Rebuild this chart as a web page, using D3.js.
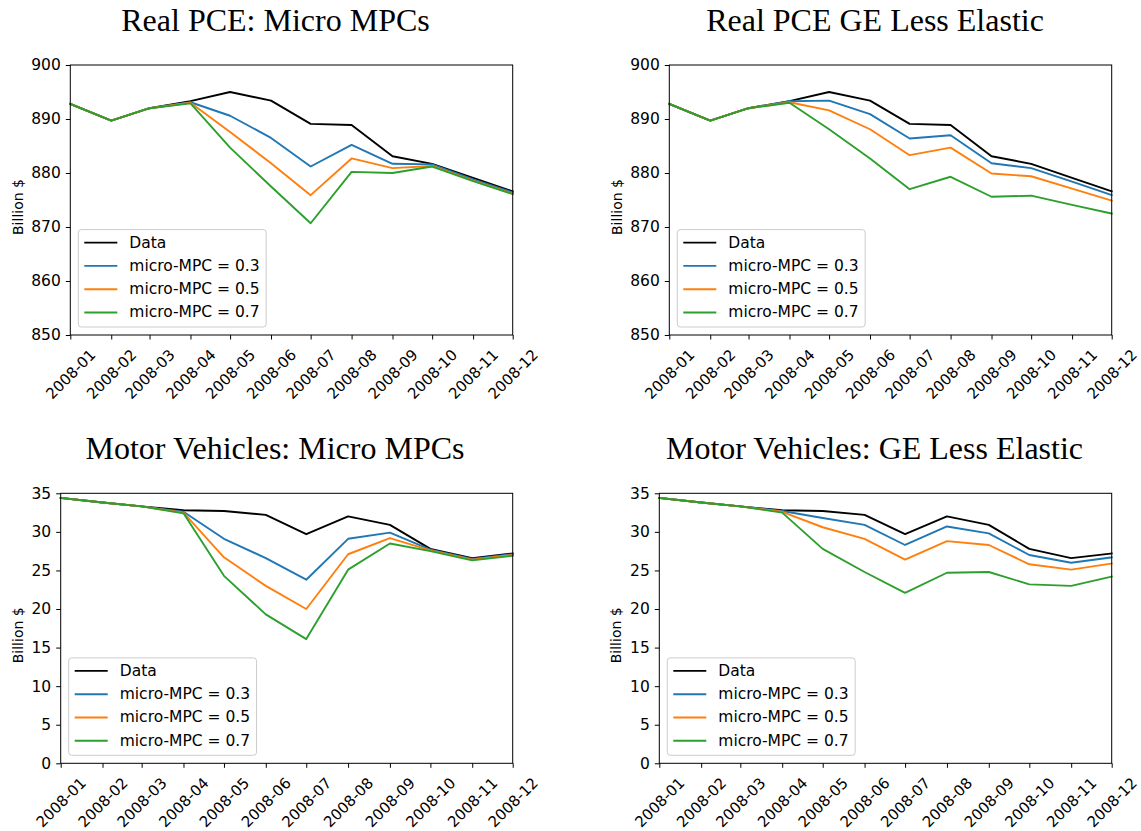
<!DOCTYPE html>
<html>
<head>
<meta charset="utf-8">
<script src="https://cdn.jsdelivr.net/npm/d3@7"></script>
<style>
  body { margin: 0; background: #fff; }
  svg { display: block; }
  .tick text { font-family: "DejaVu Sans", sans-serif; }
</style>
</head>
<body>
<svg id="chart" width="1141" height="831"></svg>
<script>
// data
const months = ["2008-01", "2008-02", "2008-03", "2008-04", "2008-05", "2008-06",
                "2008-07", "2008-08", "2008-09", "2008-10", "2008-11", "2008-12"];

const seriesNames = ["Data", "micro-MPC = 0.3", "micro-MPC = 0.5", "micro-MPC = 0.7"];
const seriesColors = ["#000000", "#1f77b4", "#ff7f0e", "#2ca02c"];

// Real PCE, billion $
const pceData      = [892.8, 889.7, 892.0, 893.3, 895.0, 893.4, 889.1, 888.9, 883.1, 881.7, 879.1, 876.6];
const pceMicro03   = [892.8, 889.7, 892.0, 893.1, 890.6, 886.5, 881.2, 885.2, 881.7, 881.6, 878.8, 876.4];
const pceMicro05   = [892.8, 889.7, 892.0, 893.0, 887.6, 881.8, 875.9, 882.7, 880.9, 881.3, 878.6, 876.2];
const pceMicro07   = [892.8, 889.7, 892.0, 892.9, 884.7, 877.5, 870.7, 880.2, 880.0, 881.2, 878.5, 876.1];
const pceGE03      = [892.8, 889.7, 892.0, 893.3, 893.4, 890.9, 886.4, 887.0, 881.8, 880.9, 878.4, 875.9];
const pceGE05      = [892.8, 889.7, 892.0, 893.1, 891.6, 888.1, 883.3, 884.7, 879.9, 879.4, 877.1, 874.9];
const pceGE07      = [892.8, 889.7, 892.0, 893.0, 888.1, 882.7, 877.0, 879.3, 875.6, 875.8, 874.1, 872.5];

// Motor vehicles, billion $
const mvData       = [34.4, 33.8, 33.3, 32.8, 32.7, 32.2, 29.7, 32.0, 30.9, 27.8, 26.6, 27.2];
const mvMicro03    = [34.4, 33.8, 33.3, 32.6, 29.1, 26.6, 23.8, 29.1, 29.9, 27.7, 26.5, 27.1];
const mvMicro05    = [34.4, 33.8, 33.3, 32.5, 26.7, 23.0, 20.0, 27.1, 29.2, 27.6, 26.4, 27.0];
const mvMicro07    = [34.4, 33.8, 33.3, 32.4, 24.3, 19.3, 16.1, 25.1, 28.5, 27.5, 26.3, 26.9];
const mvGE03       = [34.4, 33.8, 33.3, 32.7, 31.8, 30.9, 28.3, 30.7, 29.8, 27.0, 26.0, 26.7];
const mvGE05       = [34.4, 33.8, 33.3, 32.6, 30.6, 29.1, 26.4, 28.8, 28.3, 25.8, 25.1, 25.9];
const mvGE07       = [34.4, 33.8, 33.3, 32.5, 27.8, 24.8, 22.1, 24.7, 24.8, 23.2, 23.0, 24.2];

const pceTicks = [850, 860, 870, 880, 890, 900];
const mvTicks  = [0, 5, 10, 15, 20, 25, 30, 35];

const panels = [
  { title: "Real PCE: Micro MPCs", series: [pceData, pceMicro03, pceMicro05, pceMicro07],
    yDomain: [850, 900], yTicks: pceTicks,
    left: 70.3, right: 512.7, top: 65, bottom: 335, titleX: 275.5, labelX: 18 },
  { title: "Real PCE GE Less Elastic", series: [pceData, pceGE03, pceGE05, pceGE07],
    yDomain: [850, 900], yTicks: pceTicks,
    left: 669.3, right: 1111.7, top: 65, bottom: 335, titleX: 875, labelX: 617 },
  { title: "Motor Vehicles: Micro MPCs", series: [mvData, mvMicro03, mvMicro05, mvMicro07],
    yDomain: [0, 35], yTicks: mvTicks,
    left: 60.7, right: 512.7, top: 493.3, bottom: 763.3, titleX: 275, labelX: 18 },
  { title: "Motor Vehicles: GE Less Elastic", series: [mvData, mvGE03, mvGE05, mvGE07],
    yDomain: [0, 35], yTicks: mvTicks,
    left: 659.3, right: 1111.7, top: 493.3, bottom: 763.3, titleX: 874.5, labelX: 616 }
];

const parseMonth = d3.timeParse("%Y-%m");
const dates = months.map(parseMonth);

const svg = d3.select("#chart");
const TICK_FONT = 15;
const LEGEND_FONT = 15.5;

panels.forEach(function(p) {
  let x = d3.scaleTime()
    .domain(d3.extent(dates))
    .range([p.left, p.right]);
  let y = d3.scaleLinear()
    .domain(p.yDomain)
    .range([p.bottom, p.top]);

  let g = svg.append("g");

  // title
  g.append("text")
    .attr("x", p.titleX)
    .attr("y", p.top - 34)
    .attr("text-anchor", "middle")
    .style("font-family", "'Liberation Serif', 'Times New Roman', serif")
    .style("font-size", "32px")
    .text(p.title);

  // y axis
  let yAxis = g.append("g")
    .attr("transform", "translate(" + p.left + ",0)")
    .call(d3.axisLeft(y).tickValues(p.yTicks).tickSize(4.5).tickPadding(5).tickFormat(d3.format("d")));
  yAxis.select(".domain").remove();
  yAxis.selectAll(".tick line").attr("stroke-width", 1);
  yAxis.selectAll(".tick text").style("font-size", "15.5px").attr("fill", "#000");

  // x axis, labels rotated 45 and centred on the tick like matplotlib
  let xAxis = g.append("g")
    .attr("transform", "translate(0," + p.bottom + ")")
    .call(d3.axisBottom(x).tickValues(dates).tickSize(4.5).tickFormat(d3.timeFormat("%Y-%m")));
  xAxis.select(".domain").remove();
  xAxis.selectAll(".tick line").attr("stroke-width", 1);
  xAxis.selectAll(".tick text")
    .style("font-size", TICK_FONT + "px")
    .attr("fill", "#000")
    .attr("y", 0)
    .attr("dy", null)
    .attr("text-anchor", "middle")
    .attr("dominant-baseline", "central")
    .each(function() {
      let w = this.getComputedTextLength();
      let h = TICK_FONT * 1.16;
      let boxH = (w + h) * Math.SQRT1_2;
      let cy = 11 + boxH / 2;
      d3.select(this)
        .attr("y", cy)
        .attr("transform", "rotate(-45,0," + cy + ")");
    });

  // y label
  let labelY = (p.top + p.bottom) / 2 + 7;
  g.append("text")
    .attr("transform", "translate(" + p.labelX + "," + labelY + ") rotate(-90)")
    .attr("text-anchor", "middle")
    .attr("dominant-baseline", "central")
    .style("font-family", "'DejaVu Sans', sans-serif")
    .style("font-size", "14px")
    .text("Billion $");

  // lines
  let line = d3.line()
    .x(function(d, i) { return x(dates[i]); })
    .y(function(d) { return y(d); });

  g.append("g").selectAll("path")
    .data(p.series)
    .enter().append("path")
    .attr("d", line)
    .attr("fill", "none")
    .attr("stroke", function(d, i) { return seriesColors[i]; })
    .attr("stroke-width", 1.9)
    .attr("stroke-linejoin", "round")
    .attr("stroke-linecap", "square");

  // frame
  g.append("rect")
    .attr("x", p.left)
    .attr("y", p.top)
    .attr("width", p.right - p.left)
    .attr("height", p.bottom - p.top)
    .attr("fill", "none")
    .attr("stroke", "#000")
    .attr("stroke-width", 1);

  // legend, lower left
  let rowH = 23.3, padL = 6, lineLen = 33, gap = 12;
  let lg = g.append("g");
  let box = lg.append("rect")
    .attr("fill", "#fff")
    .attr("fill-opacity", 0.8)
    .attr("stroke", "#cccccc")
    .attr("stroke-width", 1)
    .attr("rx", 3);
  let maxW = 0;
  let rows = lg.selectAll(".row")
    .data(seriesNames)
    .enter().append("g")
    .attr("class", "row");
  rows.append("line")
    .attr("x1", 0).attr("x2", lineLen)
    .attr("y1", function(d, i) { return i * rowH; })
    .attr("y2", function(d, i) { return i * rowH; })
    .attr("stroke", function(d, i) { return seriesColors[i]; })
    .attr("stroke-width", 1.9);
  rows.append("text")
    .attr("x", lineLen + gap)
    .attr("y", function(d, i) { return i * rowH; })
    .attr("dominant-baseline", "central")
    .style("font-family", "'DejaVu Sans', sans-serif")
    .style("font-size", LEGEND_FONT + "px")
    .text(function(d) { return d; })
    .each(function() { maxW = Math.max(maxW, this.getComputedTextLength()); });

  let boxW = padL + lineLen + gap + maxW + 6.5;
  let boxH = 97.4;
  let bx = p.left + 8, by = p.bottom - 8 - boxH;
  box.attr("x", 0).attr("y", 0).attr("width", boxW).attr("height", boxH);
  box.attr("transform", "translate(" + bx + "," + by + ")");
  rows.attr("transform", "translate(" + (bx + padL) + "," + (by + 13) + ")");
});
</script>
</body>
</html>
